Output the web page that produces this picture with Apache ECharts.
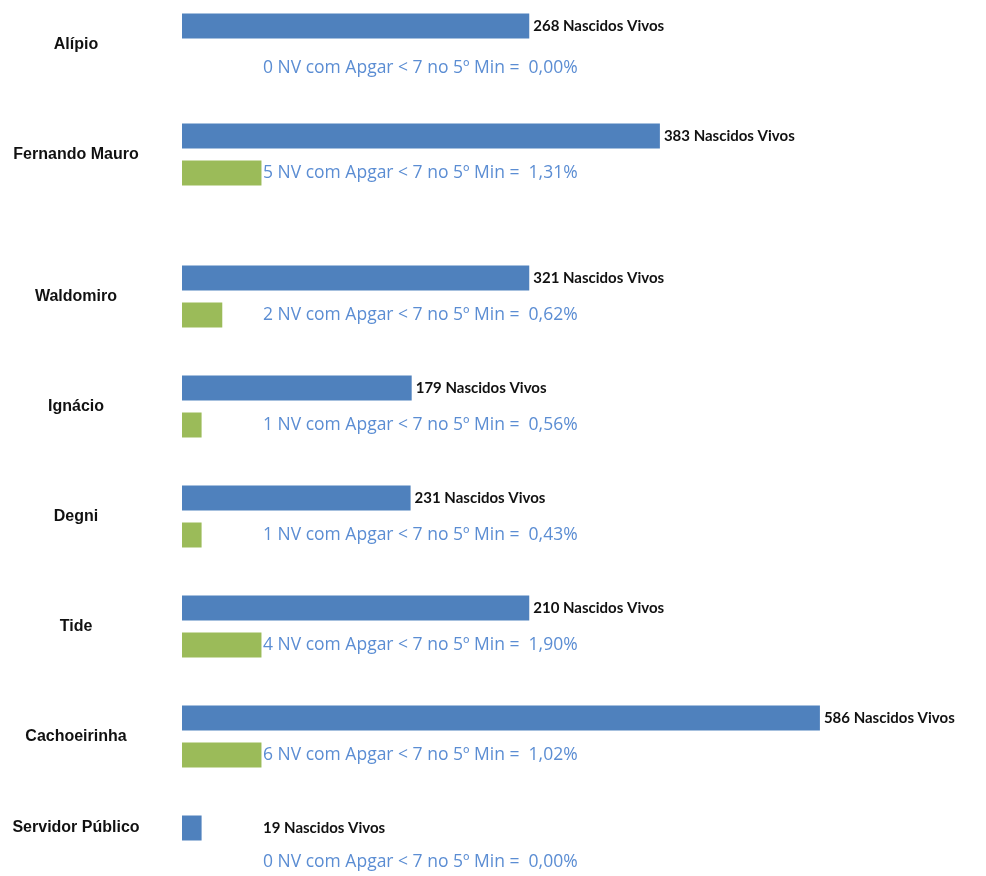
<!DOCTYPE html>
<html>
<head>
<meta charset="utf-8">
<script src="https://cdn.jsdelivr.net/npm/echarts@6/dist/echarts.min.js"></script>
<style>
html,body{margin:0;padding:0;background:#fff;}
#c{width:986px;height:876px;}
</style>
</head>
<body>
<div id="c"></div>
<script>
// Data
const categories = ['Alípio','Fernando Mauro','Waldomiro','Ignácio','Degni','Tide','Cachoeirinha','Servidor Público'];
const nascidosVivos = [268, 383, 321, 179, 231, 210, 586, 19];
const apgarCount = [0, 5, 2, 1, 1, 4, 6, 0];
const apgarPct = ['0,00%', '1,31%', '0,62%', '0,56%', '0,43%', '1,90%', '1,02%', '0,00%'];
// drawn bar lengths as they appear in the picture (axis units)
const blueBarLength = [319, 439, 319, 211, 210, 319, 586, 18];
const greenBarLength = [0, 73, 37, 18, 18, 73, 73, 0];

const CAT_FONT = '"Liberation Sans", Arial, sans-serif';
const VAL_FONT = 'Lato, "Liberation Sans", sans-serif';
const PCT_FONT = '"Open Sans", "Liberation Sans", sans-serif';
const BLUE = '#4F81BD';
const GREEN = '#9BBB59';
const TEXTBLUE = '#5B8DD3';
const FIXED_LABEL_X = 81;

const groups = [[0, 2], [2, 8]];
const gridTops = [44.5, 296.5];
const gridHeights = [110, 550];

const option = {
  backgroundColor: '#ffffff',
  animation: false,
  grid: [], xAxis: [], yAxis: [], series: []
};

groups.forEach(function (g, gi) {
  const cats = categories.slice(g[0], g[1]);
  option.grid.push({left: 182, width: 762, top: gridTops[gi], height: gridHeights[gi], containLabel: false});
  option.xAxis.push({
    type: 'value', gridIndex: gi, min: 0, max: 700,
    show: false, splitLine: {show: false}
  });
  option.yAxis.push({
    type: 'category', gridIndex: gi, data: cats, inverse: true, boundaryGap: false,
    axisLine: {show: false}, axisTick: {show: false}, splitLine: {show: false},
    axisLabel: {
      margin: 106, align: 'center', color: '#111', fontFamily: CAT_FONT, fontWeight: 'bold', fontSize: 16,
      formatter: function (v) {
        return v === 'Servidor Público' ? '{up|' + v + '}' : v;
      },
      rich: {up: {padding: [0, 0, 38, 0], color: '#111', fontFamily: CAT_FONT, fontWeight: 'bold', fontSize: 16}}
    }
  });
  const blueData = [], greenData = [];
  for (let i = g[0]; i < g[1]; i++) {
    const bItem = {value: blueBarLength[i], name: categories[i], nv: nascidosVivos[i]};
    if (blueBarLength[i] < 60) {
      bItem.label = {position: 'insideLeft', distance: 0, offset: [FIXED_LABEL_X, 0]};
    }
    blueData.push(bItem);
    const gItem = {value: greenBarLength[i], name: categories[i], cnt: apgarCount[i], pct: apgarPct[i]};
    if (i === 0) gItem.label = {offset: [FIXED_LABEL_X, 5]};
    if (i === categories.length - 1) gItem.label = {offset: [FIXED_LABEL_X, -3]};
    greenData.push(gItem);
  }
  option.series.push({
    type: 'bar', xAxisIndex: gi, yAxisIndex: gi, data: blueData,
    barWidth: 25, barGap: '48%',
    itemStyle: {color: BLUE},
    label: {
      show: true, position: 'right', distance: 4,
      color: '#111', fontFamily: VAL_FONT, fontWeight: 'bold', fontSize: 15,
      formatter: function (p) { return p.data.nv + ' Nascidos Vivos'; }
    }
  });
  option.series.push({
    type: 'bar', xAxisIndex: gi, yAxisIndex: gi, data: greenData,
    barWidth: 25, barGap: '48%',
    itemStyle: {color: GREEN},
    label: {
      show: true, position: 'insideLeft', distance: 0, offset: [FIXED_LABEL_X, 0],
      color: TEXTBLUE, fontFamily: PCT_FONT, fontSize: 17.5,
      formatter: function (p) { return p.data.cnt + ' NV com Apgar < 7 no 5º Min =  ' + p.data.pct; }
    }
  });
});

const chart = echarts.init(document.getElementById('c'), null, {renderer: 'canvas'});
chart.setOption(option);
</script>
</body>
</html>
